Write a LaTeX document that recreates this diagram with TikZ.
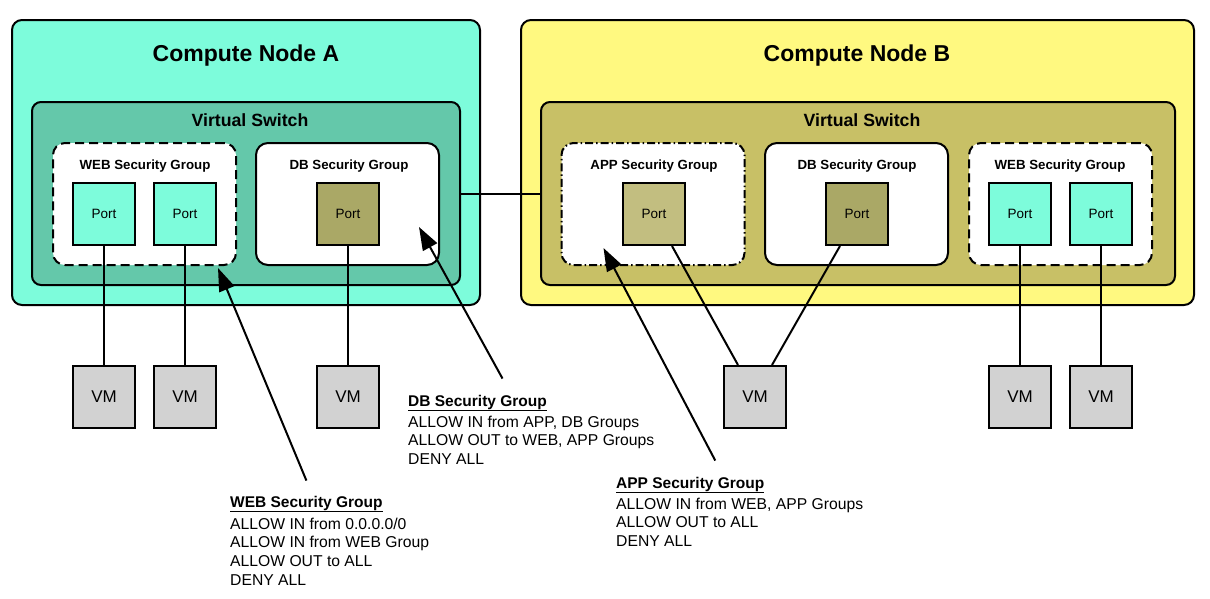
\documentclass[tikz,border=0pt]{standalone}
\usepackage{fontspec}
\setmainfont{Liberation Sans}
\usepackage{xcolor}
\usepackage{tikz}
\usetikzlibrary{arrows.meta}

\definecolor{hostaqua}{RGB}{125,252,219}
\definecolor{switchaqua}{RGB}{100,200,170}
\definecolor{hostlemon}{RGB}{255,249,128}
\definecolor{switchkhaki}{RGB}{200,192,102}
\definecolor{dbkhaki}{RGB}{170,168,102}
\definecolor{appkhaki}{RGB}{194,190,128}
\definecolor{vmgrey}{RGB}{210,210,210}

\begin{document}
\begin{tikzpicture}[x=1pt,y=-1pt,
    hostbox/.style={draw,line width=2pt,rounded corners=10pt,inner sep=0pt,minimum height=285pt},
    switchbox/.style={draw,line width=2pt,rounded corners=9pt,inner sep=0pt,minimum height=183pt},
    sgbox/.style={draw,line width=2pt,rounded corners=12pt,fill=white,inner sep=0pt,minimum width=183pt,minimum height=122pt},
    webbox/.style={sgbox,dash pattern=on 9pt off 5pt},
    appbox/.style={sgbox,dash pattern=on 8pt off 3pt on 1.5pt off 3pt},
    portbox/.style={draw,line width=2pt,inner sep=0pt,minimum size=62pt,font=\fontsize{13.5}{15}\selectfont},
    vmbox/.style={portbox,fill=vmgrey,font=\fontsize{17}{20}\selectfont},
    hosttitle/.style={anchor=base,font=\bfseries\fontsize{23}{27}\selectfont},
    switchtitle/.style={anchor=base,font=\bfseries\fontsize{17.7}{21}\selectfont},
    sgtitle/.style={anchor=base,font=\bfseries\fontsize{13.3}{16}\selectfont},
    notetitle/.style={anchor=base west,inner sep=0pt,font=\bfseries\fontsize{15.5}{19}\selectfont},
    notetext/.style={anchor=north west,inner sep=0pt,align=left,font=\fontsize{15.7}{18.8}\selectfont},
    wire/.style={line width=2pt},
    pointer/.style={line width=2pt,-{Triangle[length=23pt,width=16pt]}}]
    \useasboundingbox (0,0) rectangle (1210,598);
    \node[hostbox,fill=hostaqua,minimum width=468pt] (hostA) at (246,162.5) {};
    \node[hostbox,fill=hostlemon,minimum width=673pt] (hostB) at (857.5,162.5) {};
    \node[hosttitle] (hostAT) at (246,61) {Compute Node A};
    \node[hosttitle] (hostBT) at (857,61) {Compute Node B};
    \node[switchbox,fill=switchaqua,minimum width=428pt] (swA) at (246,193.5) {};
    \node[switchbox,fill=switchkhaki,minimum width=634pt] (swB) at (858,193.5) {};
    \node[switchtitle] (swAT) at (250,126) {Virtual Switch};
    \node[switchtitle] (swBT) at (862,126) {Virtual Switch};
    \draw[wire] (swA.east) -- (swB.west);
    \node[webbox] (webA) at (144.5,204) {};
    \node[sgbox] (dbA) at (347.5,204) {};
    \node[appbox] (appB) at (653,204) {};
    \node[sgbox] (dbB) at (856.5,204) {};
    \node[webbox] (webB) at (1060.5,204) {};
    \node[sgtitle] (webAT) at (145,169) {WEB Security Group};
    \node[sgtitle] (dbAT) at (349,169) {DB Security Group};
    \node[sgtitle] (appBT) at (654,169) {APP Security Group};
    \node[sgtitle] (dbBT) at (857,169) {DB Security Group};
    \node[sgtitle] (webBT) at (1060,169) {WEB Security Group};
    \node[portbox,fill=hostaqua] (pA1) at (104,214) {Port};
    \node[portbox,fill=hostaqua] (pA2) at (185,214) {Port};
    \node[portbox,fill=dbkhaki] (pA3) at (348,214) {Port};
    \node[portbox,fill=appkhaki] (pB1) at (654,214) {Port};
    \node[portbox,fill=dbkhaki] (pB2) at (857,214) {Port};
    \node[portbox,fill=hostaqua] (pB3) at (1020,214) {Port};
    \node[portbox,fill=hostaqua] (pB4) at (1101,214) {Port};
    \node[vmbox] (vm1) at (104,397) {VM};
    \node[vmbox] (vm2) at (185,397) {VM};
    \node[vmbox] (vm3) at (348,397) {VM};
    \node[vmbox] (vm4) at (755,397) {VM};
    \node[vmbox] (vm5) at (1020,397) {VM};
    \node[vmbox] (vm6) at (1101,397) {VM};
    \draw[wire] (pA1.south) -- (vm1.north);
    \draw[wire] (pA2.south) -- (vm2.north);
    \draw[wire] (pA3.south) -- (vm3.north);
    \draw[wire] ([xshift=18pt]pB1.south) -- ([xshift=-17pt]vm4.north);
    \draw[wire] ([xshift=-17pt]pB2.south) -- ([xshift=17pt]vm4.north);
    \draw[wire] (pB3.south) -- (vm5.north);
    \draw[wire] (pB4.south) -- (vm6.north);
    \node[notetitle] (webNT) at (230,507) {\underline{WEB Security Group}};
    \node[notetext] (webN) at (230,517.6) {ALLOW IN from 0.0.0.0/0\\ALLOW IN from WEB Group\\ALLOW OUT to ALL\\DENY ALL};
    \node[notetitle] (dbNT) at (408,406) {\underline{DB Security Group}};
    \node[notetext] (dbN) at (408,415.6) {ALLOW IN from APP, DB Groups\\ALLOW OUT to WEB, APP Groups\\DENY ALL};
    \node[notetitle] (appNT) at (616,488) {\underline{APP Security Group}};
    \node[notetext] (appN) at (616,497.6) {ALLOW IN from WEB, APP Groups\\ALLOW OUT to ALL\\DENY ALL};
    \draw[pointer] ([yshift=15pt]webNT.north) -- ([xshift=-19pt,yshift=-2pt]webA.south east);
    \draw[pointer] ([xshift=25pt,yshift=16pt]dbNT.north) -- ([xshift=-21pt,yshift=-23pt]dbA.east);
    \draw[pointer] ([xshift=25pt,yshift=16pt]appNT.north) -- ([xshift=43pt,yshift=18pt]appB.south west);
\end{tikzpicture}
\end{document}
